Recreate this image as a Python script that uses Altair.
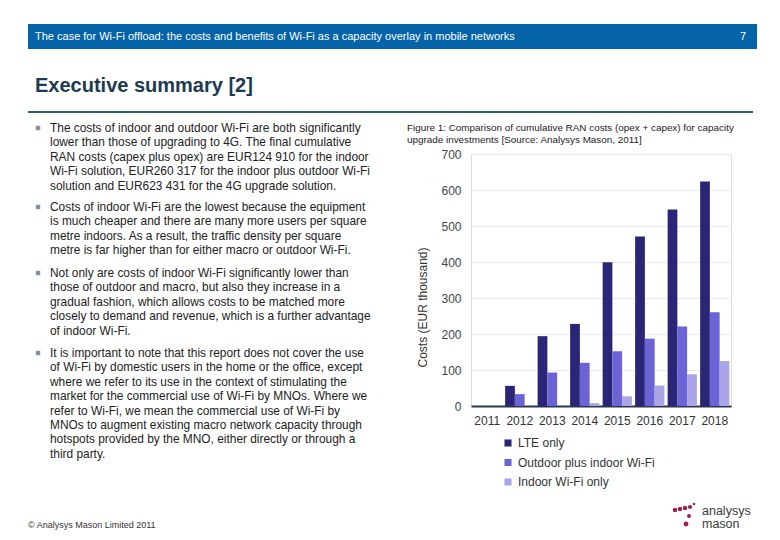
import altair as alt
import pandas as pd

# ---------------- data ----------------
years = ["2011", "2012", "2013", "2014", "2015", "2016", "2017", "2018"]
series = ["LTE only", "Outdoor plus indoor Wi-Fi", "Indoor Wi-Fi only"]
lte_only = [0, 56, 194, 228, 399, 471, 546, 623.4]
outdoor_indoor = [0, 33, 93, 120, 152, 187, 221, 260.3]
indoor_only = [0, 0, 0, 8, 27, 57, 88, 124.9]
colors = ["#2A2577", "#6C63D6", "#AAA5E6"]
y_ticks = [0, 100, 200, 300, 400, 500, 600, 700]

header_text = "The case for Wi-Fi offload: the costs and benefits of Wi-Fi as a capacity overlay in mobile networks"
page_no = "7"
slide_title = "Executive summary [2]"
caption_lines = [
    "Figure 1: Comparison of cumulative RAN costs (opex + capex) for capacity",
    "upgrade investments [Source: Analysys Mason, 2011]",
]
bullets = [
    ["The costs of indoor and outdoor Wi-Fi are both significantly",
     "lower than those of upgrading to 4G. The final cumulative",
     "RAN costs (capex plus opex) are EUR124 910 for the indoor",
     "Wi-Fi solution, EUR260 317 for the indoor plus outdoor Wi-Fi",
     "solution and EUR623 431 for the 4G upgrade solution."],
    ["Costs of indoor Wi-Fi are the lowest because the equipment",
     "is much cheaper and there are many more users per square",
     "metre indoors. As a result, the traffic density per square",
     "metre is far higher than for either macro or outdoor Wi-Fi."],
    ["Not only are costs of indoor Wi-Fi significantly lower than",
     "those of outdoor and macro, but also they increase in a",
     "gradual fashion, which allows costs to be matched more",
     "closely to demand and revenue, which is a further advantage",
     "of indoor Wi-Fi."],
    ["It is important to note that this report does not cover the use",
     "of Wi-Fi by domestic users in the home or the office, except",
     "where we refer to its use in the context of stimulating the",
     "market for the commercial use of Wi-Fi by MNOs. Where we",
     "refer to Wi-Fi, we mean the commercial use of Wi-Fi by",
     "MNOs to augment existing macro network capacity through",
     "hotspots provided by the MNO, either directly or through a",
     "third party."],
]
footer = "© Analysys Mason Limited 2011"
logo_words = ["analysys", "mason"]

rows = []
for s, vals in zip(series, [lte_only, outdoor_indoor, indoor_only]):
    for yr, v in zip(years, vals):
        rows.append({"Year": yr, "Series": s, "Cost": v})
df = pd.DataFrame(rows)

FONT = "Liberation Sans"
# plot-area origin on page: (471, 154); helpers convert page px -> chart px
OX, OY = 471, 154
def px(x):
    return x - OX
def py(y):
    return y - OY

one = pd.DataFrame({"k": [0]})

bars = alt.Chart(df).mark_bar().encode(
    x=alt.X("Year:N", sort=years,
            scale=alt.Scale(paddingInner=0.1, paddingOuter=0.05),
            axis=alt.Axis(title=None, labelAngle=0, ticks=False, domain=True,
                          domainColor="#263A4A", domainWidth=2, labelFontSize=12,
                          labelColor="#333333", labelPadding=9, grid=False)),
    xOffset=alt.XOffset("Series:N", sort=series),
    y=alt.Y("Cost:Q", scale=alt.Scale(domain=[0, 700], nice=False),
            axis=alt.Axis(title="Costs (EUR thousand)", values=y_ticks, ticks=False,
                          domain=False, grid=True, gridColor="#EBEBEB",
                          labelFontSize=12, labelColor="#444444", labelPadding=10,
                          titleFontSize=12, titleFontWeight="normal",
                          titleColor="#333333", titleX=-49, titleY=153,
                          titleBaseline="middle", titleAlign="center")),
    color=alt.Color("Series:N", sort=series,
                    scale=alt.Scale(domain=series, range=colors),
                    legend=alt.Legend(title=None, orient="none", legendX=31, legendY=283,
                                      symbolType="square", symbolSize=50,
                                      symbolStrokeWidth=0, labelFontSize=12,
                                      labelColor="#333333", rowPadding=7.5, padding=0,
                                      labelOffset=4)),
)

layers = [bars]

# header bar
layers.append(alt.Chart(one).mark_rect(color="#0563A8").encode(
    x=alt.value(px(28)), x2=alt.value(px(757)), y=alt.value(py(24)), y2=alt.value(py(49))))
layers.append(alt.Chart(one).mark_text(align="left", baseline="middle", fontSize=11,
                                       color="white", font=FONT, text=header_text).encode(
    x=alt.value(px(35)), y=alt.value(py(37))))
layers.append(alt.Chart(one).mark_text(align="right", baseline="middle", fontSize=11,
                                       color="white", font=FONT, text=page_no).encode(
    x=alt.value(px(746)), y=alt.value(py(37))))
# title + rule
layers.append(alt.Chart(one).mark_text(align="left", baseline="alphabetic", fontSize=20,
                                       fontWeight="bold", color="#1C3A52", font=FONT,
                                       text=slide_title).encode(
    x=alt.value(px(35)), y=alt.value(py(92))))
layers.append(alt.Chart(one).mark_rule(color="#2E5E74", strokeWidth=2).encode(
    x=alt.value(px(28)), x2=alt.value(px(753)), y=alt.value(py(112))))
# caption
layers.append(alt.Chart(one).mark_text(align="left", baseline="middle", fontSize=9.9,
                                       lineHeight=11.7, color="#222222", font=FONT,
                                       text=caption_lines).encode(
    x=alt.value(px(407)), y=alt.value(py(128))))
# bullets
para_tops = [128, 207, 273, 353]
for lines, top in zip(bullets, para_tops):
    layers.append(alt.Chart(one).mark_text(align="left", baseline="middle", fontSize=11.9,
                                           lineHeight=14.4, color="#222222", font=FONT,
                                           text=lines).encode(
        x=alt.value(px(50)), y=alt.value(py(top))))
    layers.append(alt.Chart(one).mark_square(size=20, color="#8492A8", opacity=1).encode(
        x=alt.value(px(38)), y=alt.value(py(top))))
# footer
layers.append(alt.Chart(one).mark_text(align="left", baseline="middle", fontSize=9,
                                       color="#333333", font=FONT, text=footer).encode(
    x=alt.value(px(28)), y=alt.value(py(525))))
# logo
for word, yy in zip(logo_words, [511, 524]):
    layers.append(alt.Chart(one).mark_text(align="left", baseline="middle", fontSize=12.5,
                                           color="#3A3A3A", font=FONT, text=word).encode(
        x=alt.value(px(702)), y=alt.value(py(yy))))
for (dx, dy, s) in [(675, 510, 20), (680, 509, 20), (685, 508, 20), (690, 507, 18),
                    (694, 504, 7), (689, 516, 16), (686, 524, 24)]:
    layers.append(alt.Chart(one).mark_circle(size=s, color="#9E1F53", opacity=1).encode(
        x=alt.value(px(dx)), y=alt.value(py(dy))))

chart = alt.layer(*layers).properties(
    width=260, height=252,
    autosize=alt.AutoSizeParams(type="none"),
    padding={"left": 463, "top": 146, "right": 40, "bottom": 124},
).configure_view(stroke=None).configure(font=FONT, background="white")

chart.save("out.html", embed_options={"renderer": "svg", "actions": False})
